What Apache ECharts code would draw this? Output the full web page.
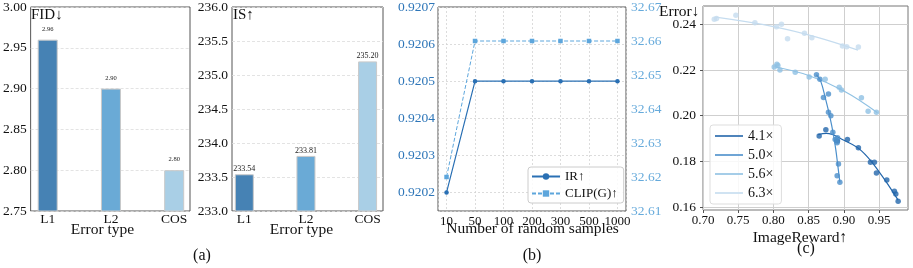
<!DOCTYPE html>
<html><head><meta charset="utf-8">
<script src="https://cdn.jsdelivr.net/npm/echarts@6/dist/echarts.min.js"></script>
<style>html,body{margin:0;padding:0;background:#fff}#c{width:913px;height:268px}</style>
</head><body><div id="c"></div>
<script>
// ---------- data ----------
const errorTypes = ['L1', 'L2', 'COS'];
const fidValues = [2.96, 2.90, 2.80];
const isValues = [233.54, 233.81, 235.20];
const barColors = ['#4682b4', '#6aaad6', '#a9cfe6'];
const fidTicks = [2.75, 2.80, 2.85, 2.90, 2.95, 3.00];
const isTicks = [233.0, 233.5, 234.0, 234.5, 235.0, 235.5, 236.0];

const sampleLabels = ['10', '50', '100', '200', '300', '500', '1000'];
const irValues = [0.9202, 0.9205, 0.9205, 0.9205, 0.9205, 0.9205, 0.9205];
const clipValues = [32.62, 32.66, 32.66, 32.66, 32.66, 32.66, 32.66];
const irTicks = [0.9202, 0.9203, 0.9204, 0.9205, 0.9206, 0.9207];
const clipTicks = [32.61, 32.62, 32.63, 32.64, 32.65, 32.66, 32.67];

const ratioNames = ['4.1×', '5.0×', '5.6×', '6.3×'];
const ratioColors = ['#2366ab', '#4b8fcb', '#8fc1e3', '#c5dcef'];
const rewardTicks = [0.70, 0.75, 0.80, 0.85, 0.90, 0.95];
const errorTicks = [0.16, 0.18, 0.20, 0.22, 0.24];

// scatter points (ImageReward, Error)
const pts41X = [0.8649, 0.8744, 0.8909, 0.9050, 0.9206, 0.9377, 0.9433, 0.9462, 0.9609, 0.9717, 0.9737, 0.9770];
const pts41Y = [0.1911, 0.1938, 0.1889, 0.1896, 0.1859, 0.1796, 0.1796, 0.1749, 0.1718, 0.1669, 0.1657, 0.1625];
const pts50X = [0.8611, 0.8659, 0.8710, 0.8781, 0.8781, 0.8815, 0.8843, 0.8876, 0.8910, 0.8904, 0.8923, 0.8904, 0.8943];
const pts50Y = [0.2179, 0.2159, 0.2079, 0.2095, 0.2015, 0.2000, 0.1927, 0.1896, 0.1903, 0.1881, 0.1788, 0.1737, 0.1708];
const pts56X = [0.8011, 0.8049, 0.8063, 0.8092, 0.8309, 0.8507, 0.8734, 0.8933, 0.8965, 0.9249, 0.9344, 0.9462];
const pts56Y = [0.2213, 0.2225, 0.2219, 0.2200, 0.2190, 0.2169, 0.2159, 0.2124, 0.2112, 0.2078, 0.2019, 0.2015];
const pts63X = [0.7160, 0.7192, 0.7467, 0.7737, 0.8043, 0.8114, 0.8200, 0.8440, 0.8545, 0.8980, 0.9040, 0.9206];
const pts63Y = [0.2422, 0.2425, 0.2439, 0.2407, 0.2389, 0.2400, 0.2337, 0.2361, 0.2341, 0.2305, 0.2302, 0.2301];

// fitted curves
const fit41X = [0.8635, 0.875, 0.900, 0.925, 0.950, 0.977];
const fit41Y = [0.1917, 0.1922, 0.1892, 0.1846, 0.1754, 0.1630];
const fit50X = [0.8611, 0.8673, 0.8744, 0.8801, 0.8848, 0.8886, 0.8910, 0.8943];
const fit50Y = [0.2179, 0.2149, 0.2068, 0.1995, 0.1923, 0.1849, 0.1791, 0.1708];
const fit56X = [0.801, 0.850, 0.900, 0.9476];
const fit56Y = [0.2214, 0.2176, 0.2108, 0.2013];
const fit63X = [0.718, 0.800, 0.860, 0.920];
const fit63Y = [0.2431, 0.2390, 0.2345, 0.2287];

// ---------- chart ----------
const FONT = 'Liberation Serif';
const zip = (xs, ys) => xs.map((x, i) => [x, ys[i]]);

const chart = echarts.init(document.getElementById('c'), null, { renderer: 'canvas' });

const frame = { show: true, borderColor: '#555', borderWidth: 1, backgroundColor: 'transparent' };
const grids = [
  Object.assign({ left: 29, top: 7, width: 161, height: 204 }, frame),
  Object.assign({ left: 232, top: 7, width: 151, height: 204 }, frame),
  Object.assign({ left: 438, top: 7, width: 188, height: 204 }, frame),
  Object.assign({ left: 703, top: 6, width: 205, height: 204 }, frame, { borderColor: '#777' })
];

const lbl = (extra) => Object.assign({ fontFamily: FONT, fontSize: 13.5, color: '#111' }, extra);

const xAxes = [
  { gridIndex: 0, type: 'value', min: -0.27, max: 2.25, axisLine: { show: false }, axisTick: { show: false }, splitLine: { show: false },
    axisLabel: lbl({ customValues: [0, 1, 2], margin: 1.5, formatter: v => errorTypes[Math.round(v)] }) },
  { gridIndex: 1, type: 'value', min: -0.2, max: 2.25, axisLine: { show: false }, axisTick: { show: false }, splitLine: { show: false },
    axisLabel: lbl({ customValues: [0, 1, 2], margin: 1.5, formatter: v => errorTypes[Math.round(v)] }) },
  { gridIndex: 2, type: 'value', min: -0.3, max: 6.3, splitNumber: 6, axisLine: { show: false }, axisTick: { show: false },
    splitLine: { show: true, lineStyle: { color: '#d4d4d4', type: [2, 2], width: 0.8 } },
    axisLabel: lbl({ customValues: [0, 1, 2, 3, 4, 5, 6], margin: 4.5, fontSize: 13, formatter: v => sampleLabels[Math.round(v)] }) },
  { gridIndex: 3, type: 'value', min: 0.70, max: 0.991, interval: 0.05, axisLine: { show: false },
    axisTick: { show: true, customValues: rewardTicks, length: 3, lineStyle: { color: '#555' } },
    splitLine: { show: true, lineStyle: { color: '#cfcfcf', width: 1 } },
    axisLabel: lbl({ customValues: rewardTicks, margin: 4.5, fontSize: 13, formatter: v => v.toFixed(2) }) }
];

const yAxes = [
  { gridIndex: 0, type: 'value', min: 2.75, max: 3.00, interval: 0.05, axisLine: { show: false }, axisTick: { show: false },
    splitLine: { show: true, lineStyle: { color: '#dcdcdc', type: [3, 2], width: 0.8 } },
    axisLabel: lbl({ customValues: fidTicks, margin: 4, formatter: v => v.toFixed(2) }) },
  { gridIndex: 1, type: 'value', min: 233, max: 236, interval: 0.5, axisLine: { show: false }, axisTick: { show: false },
    splitLine: { show: true, lineStyle: { color: '#dcdcdc', type: [3, 2], width: 0.8 } },
    axisLabel: lbl({ customValues: isTicks, margin: 4, formatter: v => v.toFixed(1) }) },
  { gridIndex: 2, type: 'value', min: 0.92015, max: 0.9207, splitNumber: 5, axisLine: { show: false }, axisTick: { show: false },
    splitLine: { show: true, lineStyle: { color: '#d4d4d4', type: [2, 2], width: 0.8 } },
    axisLabel: lbl({ customValues: irTicks, margin: 3, color: '#2e76b8', formatter: v => v.toFixed(4) }) },
  { gridIndex: 2, type: 'value', position: 'right', min: 32.61, max: 32.67, interval: 0.01, axisLine: { show: false }, axisTick: { show: false },
    splitLine: { show: false },
    axisLabel: lbl({ customValues: clipTicks, margin: 5, color: '#66aadb', formatter: v => v.toFixed(2) }) },
  { gridIndex: 3, type: 'value', min: 0.1587, max: 0.248, splitNumber: 4, axisLine: { show: false },
    axisTick: { show: true, customValues: errorTicks, length: 3, lineStyle: { color: '#555' } },
    splitLine: { show: true, lineStyle: { color: '#cfcfcf', width: 1 } },
    axisLabel: lbl({ customValues: errorTicks, margin: 7, formatter: v => v.toFixed(2) }) }
];

const series = [];
// (a) FID bars
series.push({
  type: 'bar', xAxisIndex: 0, yAxisIndex: 0, barWidth: 20, silent: true,
  data: fidValues.map((v, i) => ({ value: [i, v], itemStyle: { color: barColors[i] } })),
  itemStyle: { borderColor: '#c9c9c9', borderWidth: 1 },
  label: { show: true, position: 'top', distance: 7, fontFamily: FONT, fontSize: 6.5, color: '#222', formatter: p => p.value[1].toFixed(2) }
});
// (a) IS bars
series.push({
  type: 'bar', xAxisIndex: 1, yAxisIndex: 1, barWidth: 19, silent: true,
  data: isValues.map((v, i) => ({ value: [i, v], itemStyle: { color: barColors[i] } })),
  itemStyle: { borderColor: '#c9c9c9', borderWidth: 1 },
  label: { show: true, position: 'top', distance: 1, fontFamily: FONT, fontSize: 8, color: '#222', formatter: p => p.value[1].toFixed(2) }
});
// (b) lines
series.push({
  name: 'IR↑', type: 'line', xAxisIndex: 2, yAxisIndex: 2, data: irValues.map((v, i) => [i, v]),
  symbol: 'circle', symbolSize: 4.5, color: '#2a70b4', lineStyle: { width: 1.2, color: '#2a70b4' }, itemStyle: { color: '#2a70b4' }
});
series.push({
  name: 'CLIP(G)↑', type: 'line', xAxisIndex: 2, yAxisIndex: 3, data: clipValues.map((v, i) => [i, v]),
  symbol: 'rect', symbolSize: 4.5, color: '#5da6dc', lineStyle: { width: 1, type: [4, 2], color: '#5da6dc' }, itemStyle: { color: '#5da6dc' }
});
// (c)
const fits = [[fit41X, fit41Y], [fit50X, fit50Y], [fit56X, fit56Y], [fit63X, fit63Y]];
const pts = [[pts41X, pts41Y], [pts50X, pts50Y], [pts56X, pts56Y], [pts63X, pts63Y]];
ratioNames.forEach((n, k) => {
  series.push({
    name: n + ' pts', type: 'scatter', xAxisIndex: 3, yAxisIndex: 4, data: zip(pts[k][0], pts[k][1]),
    symbolSize: 5.5, itemStyle: { color: ratioColors[k] }, silent: true, z: 3
  });
});
ratioNames.forEach((n, k) => {
  series.push({
    name: n, type: 'line', xAxisIndex: 3, yAxisIndex: 4, data: zip(fits[k][0], fits[k][1]),
    smooth: 0.4, showSymbol: false, symbol: 'none', color: ratioColors[k], lineStyle: { width: 1.2, color: ratioColors[k] }, z: 2
  });
});

const txt = (text, x, y, size, align, color) => ({
  type: 'text', x: x, y: y, silent: true,
  style: { text: text, font: size + 'px "' + FONT + '"', fill: color || '#111', align: align || 'center', verticalAlign: 'middle' }
});

chart.setOption({
  animation: false,
  textStyle: { fontFamily: FONT },
  grid: grids,
  xAxis: xAxes,
  yAxis: yAxes,
  series: series,
  legend: [
    { data: ['IR↑', 'CLIP(G)↑'], orient: 'vertical', left: 528, top: 167, itemWidth: 28, itemHeight: 8, itemGap: 4,
      padding: [3, 6, 3, 3], borderColor: '#ccc', borderWidth: 1, borderRadius: 3, backgroundColor: 'rgba(255,255,255,0.85)',
      textStyle: { fontFamily: FONT, fontSize: 13, color: '#111' } },
    { data: ratioNames, orient: 'vertical', left: 710, top: 125, icon: 'rect', itemWidth: 28, itemHeight: 1.6, itemGap: 3,
      padding: [3, 8, 3, 5], borderColor: '#ddd', borderWidth: 1, borderRadius: 3, backgroundColor: 'rgba(255,255,255,0.85)',
      textStyle: { fontFamily: FONT, fontSize: 14, color: '#111', lineHeight: 16 } }
  ],
  graphic: [
    txt('FID↓', 31, 15, 15, 'left'),
    txt('IS↑', 233, 15, 15, 'left'),
    txt('Error type', 102.5, 229.5, 15.5),
    txt('Error type', 301.5, 229.5, 15.5),
    txt('(a)', 202, 256, 16),
    txt('Number of random samples', 532.5, 229, 15.5),
    txt('(b)', 532, 256, 16),
    txt('Error↓', 659, 11.5, 15.5, 'left'),
    txt('ImageReward↑', 800, 237.5, 15.5),
    txt('(c)', 806, 249, 16)
  ]
});
</script>
</body></html>
